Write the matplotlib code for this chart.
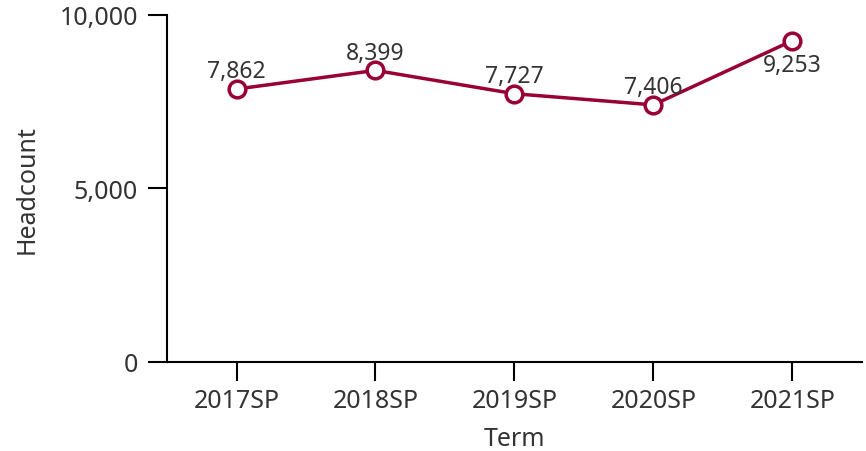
import matplotlib
matplotlib.use("Agg")
import matplotlib.pyplot as plt
from matplotlib.ticker import FuncFormatter

terms = ["2017SP", "2018SP", "2019SP", "2020SP", "2021SP"]
headcount = [7862, 8399, 7727, 7406, 9253]
label_above = [True, True, True, True, False]
y_ticks = [0, 5000, 10000]

line_color = "#990033"
text_color = "#333333"

plt.rcParams["font.family"] = ["Noto Sans", "DejaVu Sans"]

fig = plt.figure(figsize=(8.66, 4.52), dpi=100)
ax = fig.add_axes([0.193, 0.197, 0.802, 0.768])

x = list(range(len(terms)))
ax.plot(x, headcount, color=line_color, lw=2.5, marker="o", ms=12,
        mfc="white", mec=line_color, mew=2.5, zorder=3)

for xi, yi, up in zip(x, headcount, label_above):
    ax.annotate(f"{yi:,}", (xi, yi), xytext=(0, 4 if up else -9),
                textcoords="offset points", ha="center",
                va="bottom" if up else "top", fontsize=16.5, color=text_color)

ax.set_xlim(-0.5, len(terms) - 0.5)
ax.set_ylim(0, 10000)
ax.set_xticks(x)
ax.set_xticklabels(terms)
ax.set_yticks(y_ticks)
ax.yaxis.set_major_formatter(FuncFormatter(lambda v, p: f"{int(v):,}"))

for side in ["top", "right"]:
    ax.spines[side].set_visible(False)
for side in ["left", "bottom"]:
    ax.spines[side].set_linewidth(1.5)
    ax.spines[side].set_color("black")

ax.tick_params(axis="both", length=14, width=1.5, colors="black",
               labelcolor=text_color, labelsize=18)
ax.tick_params(axis="y", pad=7)
ax.tick_params(axis="x", pad=5)

ax.set_xlabel("Term", fontsize=18, color=text_color, labelpad=9)
ax.set_ylabel("Headcount", fontsize=18, color=text_color, labelpad=14)

fig.savefig("out.png", dpi=100)
